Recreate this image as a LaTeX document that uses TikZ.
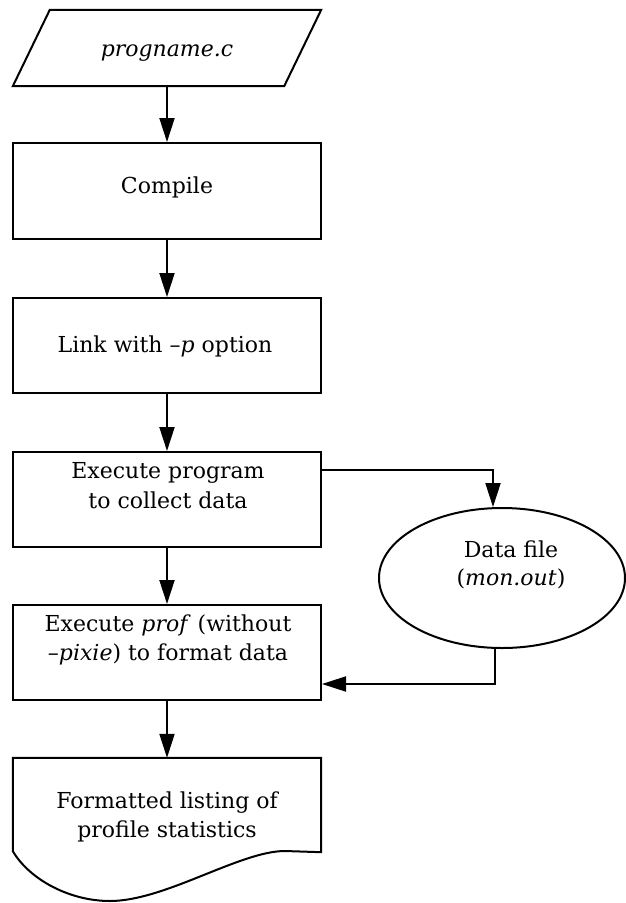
\documentclass[tikz,border=0pt]{standalone}
\usepackage{fontspec}
\setmainfont{DejaVu Serif}
\usetikzlibrary{arrows.meta,shapes.geometric}
\tikzset{
  flow/.style={line width=2pt, -{Triangle[length=24pt,width=15pt]}},
  outline/.style={line width=2pt, line join=miter},
  procbox/.style={draw, outline, minimum width=308pt, minimum height=95pt, inner sep=0pt},
  frame/.style={inner sep=0pt},
  txt/.style={anchor=base, inner sep=0pt, font=\fontsize{22}{29}\selectfont},
}
\begin{document}
\begin{tikzpicture}[x=1pt,y=-1pt]
\useasboundingbox (0,0) rectangle (626,903);

% input file (parallelogram)
\node[frame, minimum width=271pt, minimum height=76pt] (src) at (167,48) {};
\draw[outline] ([xshift=18.5pt]src.north west) -- ([xshift=18.5pt]src.north east)
  -- ([xshift=-18.5pt]src.south east) -- ([xshift=-18.5pt]src.south west) -- cycle;
\node[txt] (srct) at (167,56) {\itshape progname.c};

% processing steps
\node[procbox, minimum height=96pt] (compile) at (167,191) {};
\node[txt] (compilet) at (167,193) {Compile};

\node[procbox] (link) at (167,345.5) {};
\node[txt] (linkt) at (165,352) {Link with –\textit{p} option};

\node[procbox] (exec) at (167,499.5) {};
\node[txt] (exect1) at (168,478) {Execute program};
\node[txt] (exect2) at (168,508) {to collect data};

\node[procbox] (prof) at (167,652.5) {};
\node[txt] (proft1) at (168,631) {Execute \textit{prof} (without};
\node[txt] (proft2) at (168,660) {–\textit{pixie}) to format data};

% output listing (document shape)
\node[frame, minimum width=308pt, minimum height=93pt] (lst) at (167,804.5) {};
\draw[outline] (lst.south west) -- (lst.north west) -- (lst.north east)
  -- ([yshift=-1pt]lst.south east) -- (285,851)
  .. controls (240,851) and (165,901) .. (110,901)
  .. controls (70,901) and (30,880) .. (lst.south west) -- cycle;
\node[txt] (lstt1) at (167,808) {Formatted listing of};
\node[txt] (lstt2) at (167,837) {profile statistics};

% data file
\node[ellipse, draw, outline, minimum width=246pt, minimum height=140pt, inner sep=0pt] (data) at (502,578) {};
\node[txt] (datat1) at (511,557) {Data file};
\node[txt] (datat2) at (511,585) {(\textit{mon.out})};

% connectors
\draw[flow] (src.south) -- (compile.north);
\draw[flow] (compile.south) -- (link.north);
\draw[flow] (link.south) -- (exec.north);
\draw[flow] (exec.south) -- (prof.north);
\draw[flow] (prof.south) -- (lst.north);
\draw[flow] (exec.east |- 0,470) -| ([xshift=-9pt]data.north);
\draw[flow] ([xshift=-7pt]data.south) |- (prof.east |- 0,684);
\end{tikzpicture}
\end{document}
